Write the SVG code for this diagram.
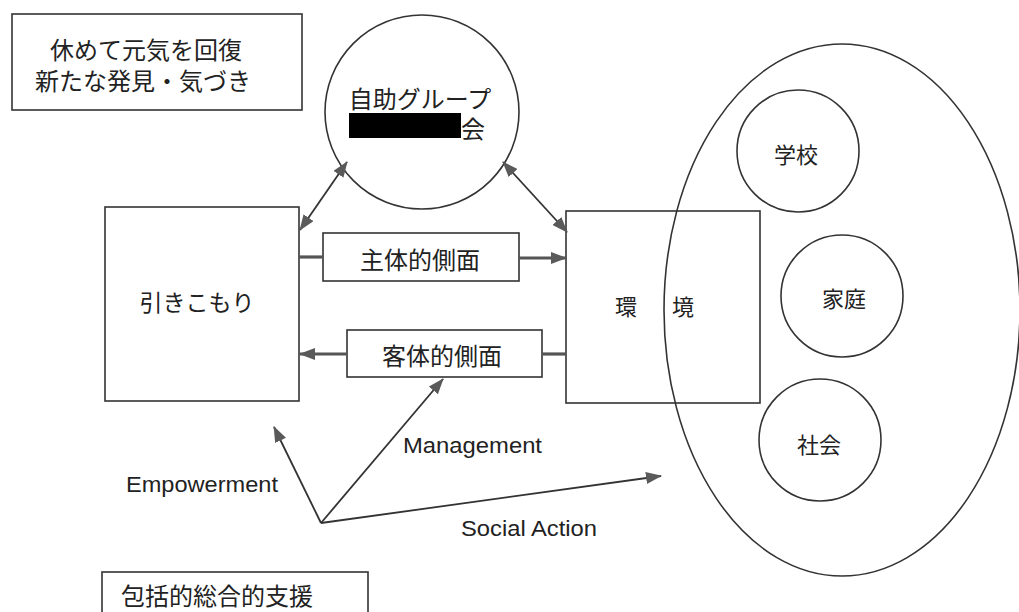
<svg xmlns="http://www.w3.org/2000/svg" width="1019" height="612" viewBox="0 0 1019 612">
<style>
.bx{fill:none;stroke:#333;stroke-width:1.6}
.jp{font-family:"Noto Sans CJK JP","Noto Sans CJK SC",sans-serif;fill:#222;text-anchor:middle;dominant-baseline:central}
.en{font-family:"Liberation Sans",Arial,sans-serif;fill:#222;font-size:22px}
.ln{fill:none;stroke:#333;stroke-width:1.8}
.th{fill:none;stroke:#555;stroke-width:3.2}
</style>
<defs>
<marker id="ah" viewBox="0 0 16 12" refX="15" refY="6" markerWidth="16" markerHeight="12" markerUnits="userSpaceOnUse" orient="auto-start-reverse">
<path d="M0,0 L16,6 L0,12 z" fill="#5a5a5a"/>
</marker>
</defs>
<rect width="1019" height="612" fill="#fff"/>

<g id="note">
<rect class="bx" x="12" y="14" width="290" height="96"/>
<text class="jp" x="146" y="48" font-size="24">休めて元気を回復</text>
<text class="jp" x="143" y="79" font-size="24">新たな発見・気づき</text>
</g>

<g id="selfhelp">
<circle class="bx" cx="422" cy="112" r="97"/>
<text class="jp" x="420" y="97" font-size="24">自助グループ</text>
<rect x="349" y="113" width="112" height="25" fill="#000"/>
<text class="jp" x="473" y="127" font-size="24">会</text>
</g>

<g id="hikikomori">
<rect class="bx" x="105" y="207" width="194" height="194"/>
<text class="jp" x="197" y="301" font-size="23">引きこもり</text>
</g>

<g id="environment-group">
<ellipse class="bx" cx="842" cy="310" rx="178" ry="266"/>
</g>

<g id="environment">
<rect class="bx" x="566" y="211" width="194" height="192"/>
<text class="jp" x="615" y="305" font-size="22" letter-spacing="6.5" style="text-anchor:start">環　境</text>
</g>

<g id="school">
<circle class="bx" cx="798" cy="151" r="61"/>
<text class="jp" x="796" y="153" font-size="22">学校</text>
</g>
<g id="family">
<circle class="bx" cx="842" cy="296" r="61"/>
<text class="jp" x="844" y="297" font-size="22">家庭</text>
</g>
<g id="society">
<circle class="bx" cx="820" cy="440" r="61"/>
<text class="jp" x="819" y="443" font-size="22">社会</text>
</g>

<g id="subjective">
<rect class="bx" x="323" y="233" width="196" height="48"/>
<text class="jp" x="420" y="258" font-size="24">主体的側面</text>
</g>
<g id="objective">
<rect class="bx" x="347" y="330" width="195" height="47"/>
<text class="jp" x="442" y="354" font-size="24">客体的側面</text>
</g>

<g id="support">
<rect class="bx" x="102" y="572" width="266" height="70"/>
<text class="jp" x="217" y="594" font-size="24">包括的総合的支援</text>
</g>

<g id="connectors">
<line class="ln" x1="347" y1="162" x2="300" y2="230" marker-start="url(#ah)" marker-end="url(#ah)"/>
<line class="ln" x1="503" y1="162" x2="567" y2="232" marker-start="url(#ah)" marker-end="url(#ah)"/>
<line class="th" x1="299" y1="257" x2="323" y2="257"/>
<line class="th" x1="519" y1="258" x2="566" y2="258" marker-end="url(#ah)"/>
<line class="th" x1="347" y1="354" x2="300" y2="354" marker-end="url(#ah)"/>
<line class="th" x1="542" y1="354" x2="566" y2="354"/>
<line class="ln" x1="321" y1="523" x2="274" y2="427" marker-end="url(#ah)"/>
<line class="ln" x1="321" y1="523" x2="443" y2="379" marker-end="url(#ah)"/>
<line class="ln" x1="321" y1="523" x2="661" y2="476" marker-end="url(#ah)"/>
</g>

<g id="labels">
<text class="en" x="126" y="492" textLength="152" lengthAdjust="spacingAndGlyphs">Empowerment</text>
<text class="en" x="403" y="453" textLength="139" lengthAdjust="spacingAndGlyphs">Management</text>
<text class="en" x="461" y="536" textLength="136" lengthAdjust="spacingAndGlyphs">Social Action</text>
</g>
</svg>
